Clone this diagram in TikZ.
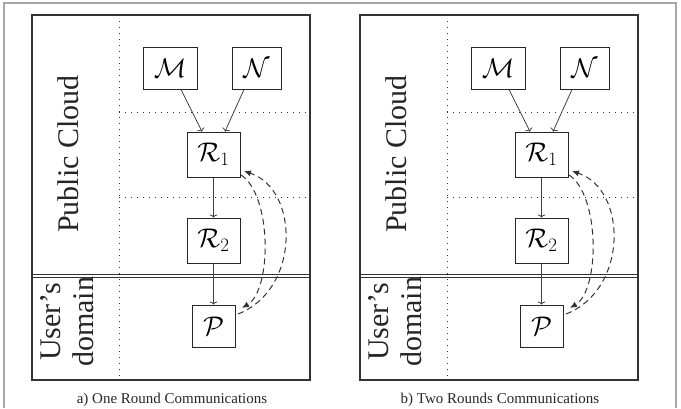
\documentclass[tikz,border=0pt]{standalone}
\usepackage{fix-cm}
\usepackage[no-math]{fontspec}
\setmainfont{Liberation Serif}
\usetikzlibrary{arrows.meta}
% #1 caption, #2 x offset, #3 name prefix
\newcommand\drawpanel[3]{%
  \draw[frame] (#2+32,15) rectangle (#2+310,380);
  \draw[dotline] (#2+119,15) -- (#2+119,380);
  \draw[dotline] (#2+119,112) -- (#2+310,112);
  \draw[dotline] (#2+119,197) -- (#2+310,197);
  \draw[frame, line width=0.9pt] (#2+32,274) -- (#2+310,274);
  \draw[frame, line width=0.9pt] (#2+32,277.5) -- (#2+310,277.5);
  \node[region] (#3pc) at (#2+68,154) {Public Cloud};
  \node[region] (#3ud) at (#2+67,322) {User’s\\domain};
  \node[box, minimum width=54pt] (#3M) at (#2+170,68) {$\mathcal{M}$};
  \node[box, minimum width=49pt] (#3N) at (#2+256.5,68) {$\mathcal{N}$};
  \node[box, minimum width=53pt, minimum height=45pt] (#3R1) at (#2+213.5,154.5) {$\mathcal{R}_1$};
  \node[box, minimum width=53pt, minimum height=45pt] (#3R2) at (#2+213.5,240.5) {$\mathcal{R}_2$};
  \node[box, minimum width=43pt] (#3P) at (#2+213.5,326) {$\mathcal{P}$};
  \draw[flow] ([xshift=11pt]#3M.south) -- ([xshift=-11.5pt]#3R1.north);
  \draw[flow] ([xshift=-12.5pt]#3N.south) -- ([xshift=11.5pt]#3R1.north);
  \draw[flow] (#3R1) -- (#3R2);
  \draw[flow] (#3R2) -- (#3P);
  \node[caption, anchor=base] (#3cap) at (#2+172,403) {#1};
}
\begin{document}
\begin{tikzpicture}[x=1pt,y=-1pt,
  frame/.style={draw=black!80, line width=1.3pt},
  dotline/.style={draw=black!80, line width=1pt, dash pattern=on 1.2pt off 4.8pt},
  box/.style={draw=black!85, line width=1pt, inner sep=0pt, minimum height=42pt, font=\fontsize{27}{30}\selectfont},
  flow/.style={draw=black!75, line width=0.8pt, -{To[length=3pt,width=8pt]}},
  back/.style={draw=black!80, line width=1pt, dash pattern=on 6pt off 4pt, -{Latex[length=7pt,width=6pt]}},
  region/.style={rotate=90, align=center, font=\fontsize{30}{33}\selectfont, text=black!85},
  caption/.style={font=\fontsize{15}{18}\selectfont, text=black!85}
]
\useasboundingbox (0,0) rectangle (681,408);
\draw[gray!70, line width=1.5pt] (4,408) -- (4,3) -- (676,3) -- (676,408);
\drawpanel{a) One Round Communications}{0}{a}
\drawpanel{b) Two Rounds Communications}{328}{b}
% dashed return arcs, panel a
\coordinate (as1) at (241,175);
\coordinate (ae1) at (242,308);
\coordinate (as2) at (238,314);
\coordinate (ae2) at (244,171);
\draw[back] (as1) .. controls (272,195) and (272,290) .. (ae1);
\draw[back] (as2) .. controls (300,290) and (300,190) .. (ae2);
% dashed return arcs, panel b
\coordinate (bs1) at (569,175);
\coordinate (be1) at (570,308);
\coordinate (bs2) at (566,314);
\coordinate (be2) at (572,171);
\draw[back] (bs1) .. controls (600,195) and (600,290) .. (be1);
\draw[back] (bs2) .. controls (628,290) and (628,190) .. (be2);
\end{tikzpicture}
\end{document}
